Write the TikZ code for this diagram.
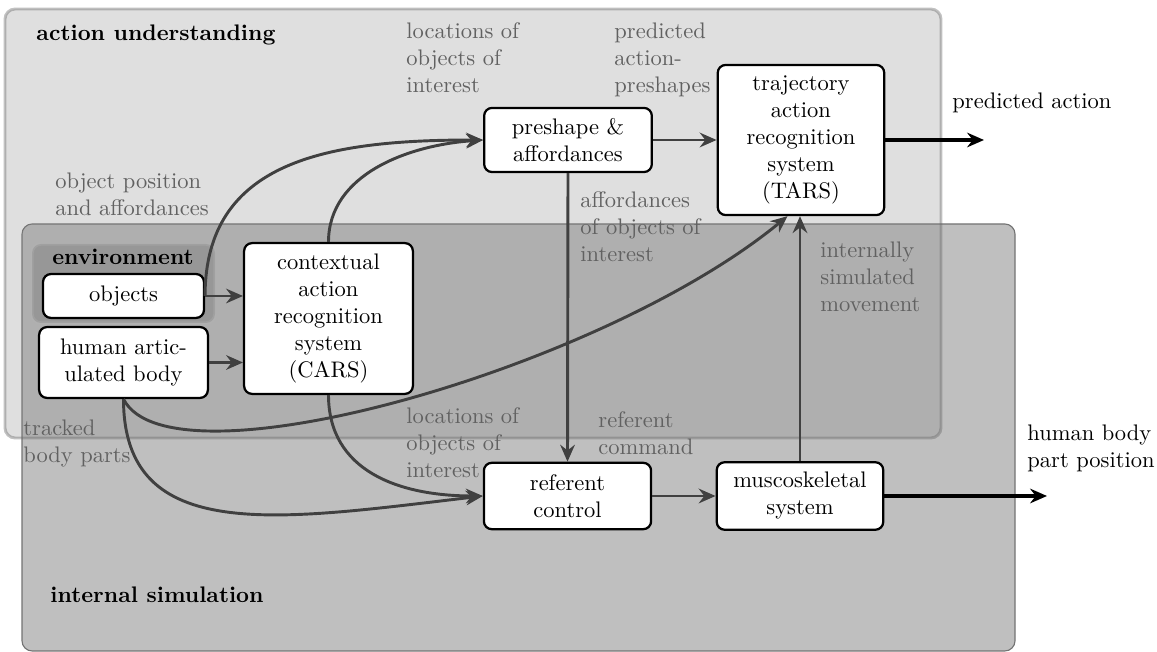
\documentclass[tikz,border=0pt]{standalone}
\usetikzlibrary{arrows.meta}
\begin{document}
\begin{tikzpicture}[x=0.4444pt,y=0.4444pt,
  blk/.style={draw=black,line width=1pt,fill=white,rounded corners=3.5pt,align=center,inner sep=2pt},
  lbl/.style={text=black!62,align=left,anchor=north west,inner sep=0pt},
  ttl/.style={font=\bfseries,anchor=north west,inner sep=0pt},
  outl/.style={align=left,anchor=north west,inner sep=0pt},
  conn/.style={draw=black!75,line width=1.3pt,-{Stealth[length=7.5pt,width=6.5pt,inset=2.5pt]}},
  outa/.style={draw=black,line width=1.4pt,-{Stealth[length=7.5pt,width=6.5pt,inset=2.5pt]}}]
\useasboundingbox (0,0) rectangle (1157,-652);
% background regions
\path[fill=gray,fill opacity=0.5,draw=black!55,line width=0.5pt,rounded corners=4.5pt]
  (22,-224) rectangle (1015,-651);
\path[fill=gray,fill opacity=0.25,draw=black!60,draw opacity=0.4,line width=1.3pt,rounded corners=4.5pt]
  (5,-9) rectangle (941,-438);
\path[fill=gray,fill opacity=0.5,draw=black!30,draw opacity=0.35,line width=1.5pt,rounded corners=4pt]
  (32,-244) rectangle (215,-323);
% titles
\node[ttl] (tau) at (36,-24) {action understanding};
\node[ttl] (tis) at (50,-586) {internal simulation};
\node[font=\bfseries,inner sep=0pt] (tenv) at (123,-257) {environment};
% blocks
\node[blk,minimum width=71.5pt,minimum height=19.5pt] (objects) at (123.5,-296) {objects};
\node[blk,minimum width=75pt,minimum height=31.5pt] (human) at (123.5,-362.5) {human artic-\\ulated body};
\node[blk,minimum width=75pt,minimum height=67pt] (cars) at (328.5,-318.5) {contextual\\action\\recognition\\system\\(CARS)};
\node[blk,minimum width=74.5pt,minimum height=28.5pt] (pre) at (568,-140) {preshape \&\\affordances};
\node[blk,minimum width=74pt,minimum height=66.7pt] (tars) at (801,-140) {trajectory\\action\\recognition\\system\\(TARS)};
\node[blk,minimum width=74.3pt,minimum height=29.5pt] (ref) at (567.5,-496) {referent\\control};
\node[blk,minimum width=74pt,minimum height=30pt] (mus) at (800,-496) {muscoskeletal\\system};
% free ends
\coordinate (pa) at (984,-140);
\coordinate (hb) at (1047,-496);
% labels
\node[lbl] (l1) at (406,-22) {locations of\\objects of\\interest};
\node[lbl] (l2) at (614,-22) {predicted\\action-\\preshapes};
\node[lbl] (l3) at (580,-191) {affordances\\of objects of\\interest};
\node[lbl] (l4) at (820,-241) {internally\\simulated\\movement};
\node[lbl] (l5) at (55,-172) {object position\\and affordances};
\node[lbl] (l6) at (23,-419) {tracked\\body parts};
\node[lbl] (l7) at (406,-407) {locations of\\objects of\\interest};
\node[lbl] (l8) at (598,-411) {referent\\command};
\node[outl] (o1) at (952,-92) {predicted action};
\node[outl] (o2) at (1027,-424) {human body\\part position};
% connectors
\draw[conn] (objects.east) -- (cars.west |- objects.east);
\draw[conn] (human.east) -- (cars.west |- human.east);
\draw[conn] (objects.east) .. controls +(0,136) and +(-154,0) .. (pre.west);
\draw[conn] (cars.north) .. controls +(0,68) and +(-74,-5) .. (pre.west);
\draw[conn] (human.south) .. controls +(46,-92) and +(-187,-154) .. ([xshift=-6pt]tars.south);
\draw[conn] (human.south) .. controls +(0,-147) and +(-204,-24) .. (ref.west);
\draw[conn] (cars.south) .. controls +(0,-76) and +(-84,0) .. (ref.west);
\draw[conn] (pre.south) -- (ref.north);
\draw[conn] (pre.east) -- (tars.west);
\draw[conn] (ref.east) -- (mus.west);
\draw[conn] (mus.north) -- (mus.north |- tars.south);
\draw[outa] (tars.east) -- (pa);
\draw[outa] (mus.east) -- (hb);
\end{tikzpicture}
\end{document}
